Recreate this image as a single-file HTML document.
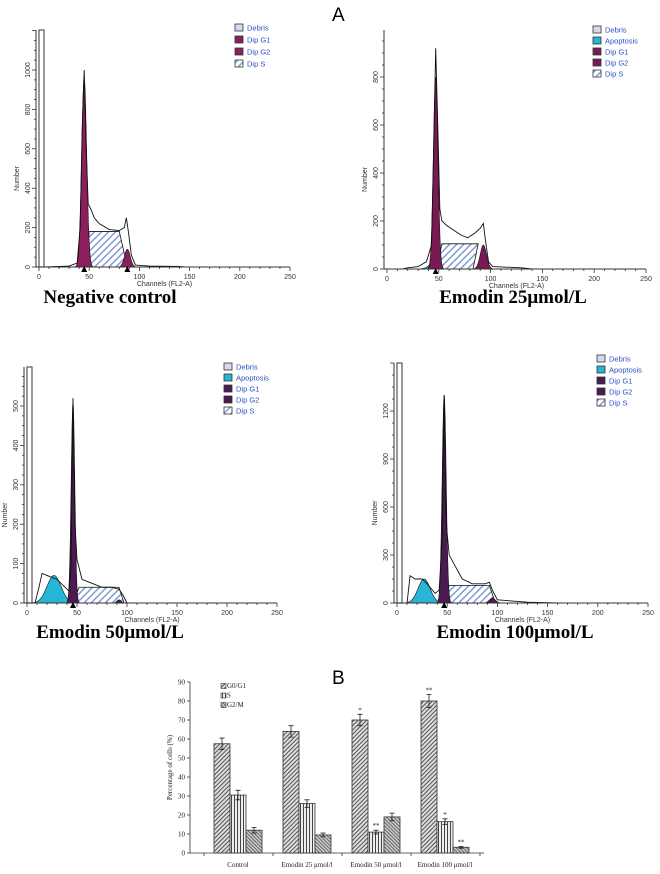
<!DOCTYPE html>
<html><head><meta charset="utf-8"><style>
body{margin:0;background:#fff;width:660px;height:874px;overflow:hidden}
svg{display:block}
.lab{font-family:"Liberation Serif",serif;font-weight:bold;font-size:19px;fill:#000}
.tk{font-family:"Liberation Sans",sans-serif;font-size:7px;fill:#333}
.lg{font-family:"Liberation Sans",sans-serif;font-size:7.5px;fill:#2a4fc0}
.bt{font-family:"Liberation Serif",serif;font-size:7px;fill:#222}
</style></head><body>
<svg id="fig" width="660" height="874" viewBox="0 0 660 874" xmlns="http://www.w3.org/2000/svg">
<defs>
<pattern id="hatchS" width="5" height="5" patternUnits="userSpaceOnUse" patternTransform="rotate(45)"><rect width="5" height="5" fill="#fff"/><rect width="1.4" height="5" fill="#7b96cc"/></pattern>
<pattern id="bG0" width="3" height="3" patternUnits="userSpaceOnUse" patternTransform="rotate(45)"><rect width="3" height="3" fill="#ddd"/><rect width="1" height="3" fill="#555"/></pattern>
<pattern id="bS" width="3" height="3" patternUnits="userSpaceOnUse"><rect width="3" height="3" fill="#eee"/><rect width="1" height="3" fill="#444"/></pattern>
<pattern id="bG2" width="2.5" height="2.5" patternUnits="userSpaceOnUse" patternTransform="rotate(-45)"><rect width="2.5" height="2.5" fill="#ccc"/><rect width="1" height="2.5" fill="#666"/></pattern>
</defs>
<text x="332" y="21" font-family="Liberation Sans,sans-serif" font-size="19">A</text>
<text x="110" y="303" class="lab" text-anchor="middle">Negative control</text>
<text x="513" y="303" class="lab" text-anchor="middle">Emodin 25μmol/L</text>
<text x="110" y="638" class="lab" text-anchor="middle">Emodin 50μmol/L</text>
<text x="515" y="638" class="lab" text-anchor="middle">Emodin 100μmol/L</text>
<text x="332" y="684" font-family="Liberation Sans,sans-serif" font-size="19">B</text>
<g id="flows"></g>
<g id="bars"></g>
</svg>
<script>
// ---------- flow cytometry data ----------
const tlEnvelope=[[5,0],[30,5],[38,20],[41,200],[43,700],[45,1000],[47,600],[49,320],[52,290],[55,250],[60,220],[70,190],[80,185],[85,200],[87,250],[89,180],[92,60],[96,10],[110,5],[140,3],[145,0]];
const trEnvelope=[[15,0],[20,5],[30,10],[38,30],[43,100],[45,500],[47,920],[49,600],[51,250],[53,200],[58,180],[65,160],[72,140],[78,130],[85,150],[90,170],[93,190],[95,120],[98,30],[102,10],[130,5],[140,0]];
const blEnvelope=[[8,0],[12,40],[15,75],[20,70],[25,65],[30,60],[38,40],[42,30],[44,100],[46,520],[48,200],[50,110],[55,60],[65,50],[75,40],[85,40],[92,35],[96,20],[100,0]];
const brEnvelope=[[10,0],[13,170],[18,150],[25,150],[30,120],[38,60],[42,80],[45,400],[47,1300],[49,500],[52,300],[58,230],[65,150],[75,120],[88,120],[92,130],[95,80],[100,20],[130,5],[160,0]];
const tlS=[[47,0],[50,180],[80,180],[88,0]];
const trS=[[48,0],[53,105],[88,105],[83,0]];
const blS=[[46,0],[52,40],[92,40],[97,0]];
const brS=[[47,0],[52,110],[92,110],[98,0]];
// peaks: [center, sd, height]
const tlG1=[45,2.5,960], tlG2=[88,2.8,90];
const trApo=[50,6,55], trG1=[47,2.2,800], trG2=[93,3,100];
const blApo=[27,7,70], blG1=[46,1.8,510], blG2=[92,2,8];
const brApo=[27,6,150], brG1=[47,2,1300], brG2=[95,3,30];
const legendA=["Debris","Dip G1","Dip G2","Dip S"];
const legendB=["Debris","Apoptosis","Dip G1","Dip G2","Dip S"];

const panels=[
 {name:"negative-control",x0:39,sx:1.004,y0:267,sy:39.4/200,top:30,ymax:1000,ystep:200,debris:1300,env:tlEnvelope,S:tlS,G1:tlG1,G2:tlG2,apo:null,col:"#8b1f5e",lx:235,ly:24,ld:12,leg:legendA,tri:[45,88]},
 {name:"emodin-25",x0:387,sx:1.036,y0:269,sy:48/200,top:30,ymax:800,ystep:200,debris:0,env:trEnvelope,S:trS,G1:trG1,G2:trG2,apo:trApo,col:"#7a1a55",lx:593,ly:26,ld:11,leg:legendB,tri:[47]},
 {name:"emodin-50",x0:27,sx:1.0,y0:603,sy:39.4/100,top:367,ymax:500,ystep:100,debris:600,env:blEnvelope,S:blS,G1:blG1,G2:blG2,apo:blApo,col:"#4b1a52",lx:224,ly:363,ld:11,leg:legendB,tri:[46]},
 {name:"emodin-100",x0:397,sx:1.004,y0:603,sy:48/300,top:363,ymax:1200,ystep:300,debris:1500,env:brEnvelope,S:brS,G1:brG1,G2:brG2,apo:brApo,col:"#4b1a52",lx:597,ly:355,ld:11,leg:legendB,tri:[47]}
];
const NS="http://www.w3.org/2000/svg";
function mk(tag,attrs,parent){const e=document.createElementNS(NS,tag);for(const k in attrs)e.setAttribute(k,attrs[k]);parent.appendChild(e);return e;}
const flows=document.getElementById('flows');
panels.forEach(p=>{
 const g=mk('g',{},flows);
 
 
 const X=c=>p.x0+c*p.sx, Y=v=>p.y0-v*p.sy;
 const gauss=(pk)=>{let pts=[];for(let c=pk[0]-4*pk[1];c<=pk[0]+4*pk[1];c+=0.25){pts.push(X(c).toFixed(1)+','+Y(pk[2]*Math.exp(-((c-pk[0])**2)/(2*pk[1]**2))).toFixed(1));}return pts.join(' ');};
 if(p.debris){const d=mk('rect',{x:X(0),y:Math.max(Y(p.debris),p.top),width:5*p.sx,height:p.y0-Math.max(Y(p.debris),p.top),fill:'#fff',stroke:'#555','stroke-width':1.2},g);
  }
 if(p.apo){const a=mk('polygon',{points:gauss(p.apo),fill:'#27b6d6',stroke:'#111','stroke-width':0.6},g);
  }
 const s=mk('polygon',{points:p.S.map(q=>X(q[0])+','+Y(q[1])).join(' '),fill:'url(#hatchS)',stroke:'#111','stroke-width':0.8},g);
 
 const g1=mk('polygon',{points:gauss(p.G1),fill:p.col,stroke:'#111','stroke-width':0.6},g);
 
 const g2=mk('polygon',{points:gauss(p.G2),fill:p.col,stroke:'#111','stroke-width':0.6},g);
 
 const env=mk('polyline',{points:p.env.map(q=>X(q[0])+','+Y(q[1])).join(' '),fill:'none',stroke:'#111','stroke-width':0.9},g);
 
 const ax=mk('path',{d:`M${X(0)-3},${p.top}V${p.y0}H${X(250)}`,stroke:'#333','stroke-width':1,fill:'none'},g);
 
 for(let c=0;c<=250;c+=10){mk('line',{x1:X(c),x2:X(c),y1:p.y0,y2:p.y0+(c%50?2:4),stroke:'#333','stroke-width':0.8},g);}
 for(let c=0;c<=250;c+=50){const t=mk('text',{x:X(c),y:p.y0+12,class:'tk','text-anchor':'middle'},g);t.textContent=c;
  }
 const minor=p.ystep/4;
 for(let v=0;Y(v)>=p.top;v+=minor){mk('line',{x1:X(0)-3,x2:X(0)-3-(v%p.ystep?2:4),y1:Y(v),y2:Y(v),stroke:'#333','stroke-width':0.8},g);}
 for(let v=0;v<=p.ymax;v+=p.ystep){const t=mk('text',{x:X(0)-9,y:Y(v),class:'tk','text-anchor':'middle',transform:`rotate(-90 ${X(0)-9} ${Y(v)})`},g);t.textContent=v;
  }
 const yt=mk('text',{x:X(0)-20,y:(p.y0+p.top)/2+30,class:'tk','font-size':8,'text-anchor':'middle',transform:`rotate(-90 ${X(0)-20} ${(p.y0+p.top)/2+30})`},g);yt.textContent='Number';
 
 const xt=mk('text',{x:X(125),y:p.y0+19,class:'tk','font-size':8.5,'text-anchor':'middle'},g);xt.textContent='Channels (FL2-A)';
 
 p.tri.forEach(c=>{const t=mk('polygon',{points:`${X(c)-3},${p.y0+5} ${X(c)+3},${p.y0+5} ${X(c)},${p.y0-1}`,fill:'#000'},g);
  });
 const fills={"Debris":"#d8d8f2","Apoptosis":"#27b6d6","Dip G1":p.col,"Dip G2":p.col,"Dip S":"url(#hatchS)"};
 p.leg.forEach((n,i)=>{const yy=p.ly+i*p.ld;
  const r=mk('rect',{x:p.lx,y:yy,width:8,height:7,fill:fills[n],stroke:'#333','stroke-width':0.8},g);
  
  const t=mk('text',{x:p.lx+12,y:yy+6.5,class:'lg'},g);t.textContent=n;
  });
});

// ---------- bar chart data ----------
const categories=["Control","Emodin  25 μmol/l","Emodin  50 μmol/l","Emodin  100 μmol/l"];
const seriesNames=["G0/G1","S","G2/M"];
const g0g1=[57.5,64,70,80];
const sPhase=[30.5,26,11,16.5];
const g2m=[12,9.5,19,3];
const errG0=[3,3,3,3.5];
const errS=[2.5,2,1,1.5];
const errG2=[1.5,1,2,0.5];
const marksG0=["","","*","**"];
const marksS=["","","**","*"];
const marksG2=["","","","**"];
const yTicks=[0,10,20,30,40,50,60,70,80,90];

const bars=document.getElementById('bars');
const yB=v=>853-v*1.9;
const gx=i=>238+i*69;
const bw=16;
const series=[[g0g1,errG0,marksG0,'url(#bG0)'],[sPhase,errS,marksS,'url(#bS)'],[g2m,errG2,marksG2,'url(#bG2)']];
const bax=mk('path',{d:`M190,${yB(90)}V853H484`,stroke:'#333','stroke-width':0.8,fill:'none'},bars);

yTicks.forEach(v=>{mk('line',{x1:187,x2:190,y1:yB(v),y2:yB(v),stroke:'#333','stroke-width':0.8},bars);
 const t=mk('text',{x:185,y:yB(v)+2.5,class:'bt','text-anchor':'end'},bars);t.textContent=v;
 });
[0,1,2,3,4].forEach(i=>mk('line',{x1:204+i*69,x2:204+i*69,y1:853,y2:856,stroke:'#333','stroke-width':0.8},bars));
const ytt=mk('text',{x:172,y:yB(45),class:'bt','text-anchor':'middle',transform:`rotate(-90 172 ${yB(45)})`},bars);ytt.textContent='Percentage of cells (%)';

categories.forEach((c,i)=>{const t=mk('text',{x:gx(i),y:867,class:'bt','text-anchor':'middle'},bars);t.textContent=c;
 });
series.forEach((s,k)=>{s[0].forEach((v,i)=>{
 const x=gx(i)-24+k*bw;
 const r=mk('rect',{x:x,y:yB(v),width:bw,height:853-yB(v),fill:s[3],stroke:'#333','stroke-width':0.8},bars);
 
 const cx=x+bw/2,e=s[1][i];
 const eb=mk('path',{d:`M${cx},${yB(v+e)}V${yB(v-e)}M${cx-2.5},${yB(v+e)}H${cx+2.5}M${cx-2.5},${yB(v-e)}H${cx+2.5}`,stroke:'#222','stroke-width':0.8,fill:'none'},bars);
 
 if(s[2][i]){const t=mk('text',{x:cx,y:yB(v+e)-2,class:'bt','text-anchor':'middle','font-size':8},bars);t.textContent=s[2][i];
  }
});});
seriesNames.forEach((n,k)=>{const yy=688+k*9.5;
 const r=mk('rect',{x:221,y:yy-4.5,width:5,height:5,fill:series[k][3],stroke:'#333','stroke-width':0.6},bars);
 
 const t=mk('text',{x:227,y:yy,class:'bt'},bars);t.textContent=n;
 });
</script>
</body></html>
